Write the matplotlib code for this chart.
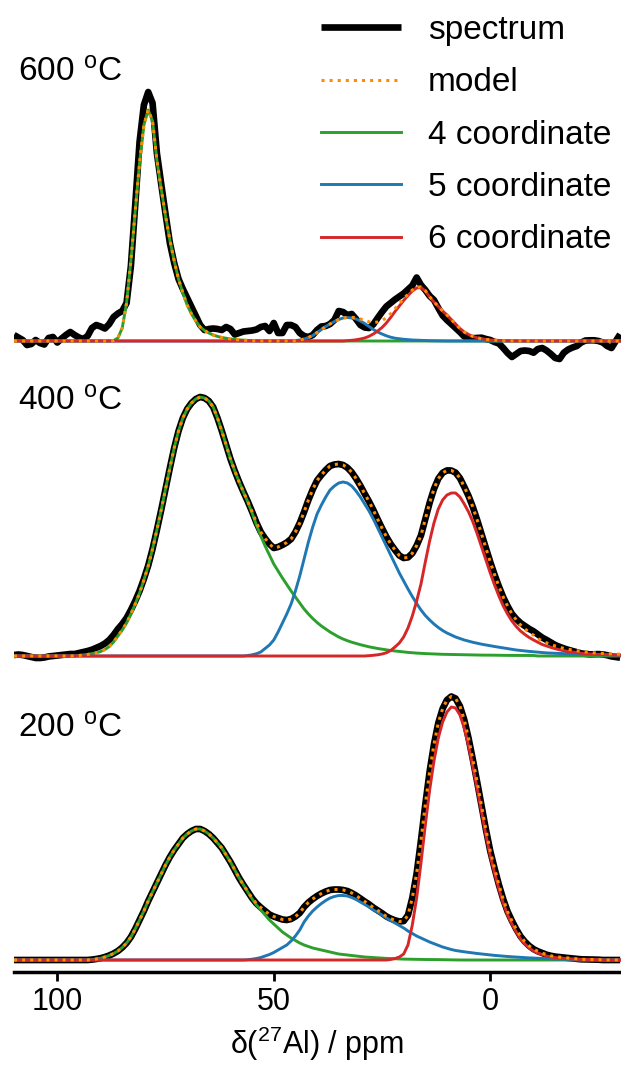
import matplotlib
matplotlib.use("Agg")
import matplotlib.pyplot as plt
import numpy as np

plt.rcParams['font.family'] = ['Liberation Sans', 'DejaVu Sans']
plt.rcParams['mathtext.default'] = 'regular'

# chemical shift axis, 1 ppm steps (values below at these shifts)
ppm = np.arange(110, -31, -1)


def on_grid(start, values):
    """Place a list of intensities (first one at `start` ppm) on the full ppm grid."""
    out = np.zeros(ppm.size)
    i = 110 - start
    out[i:i + len(values)] = values
    return out


# ---------------- 600 C ----------------
spec_600 = [
    6, 3.5, 1, -4, -3, 1, -2, -3.5, 3, 4,                   # 110..101
    -1.5, 2.5, 6, 9, 6, 3.5, 2, 5, 13, 16,                  # 100..91
    14.5, 12.5, 17, 24, 27.5, 30, 38, 75, 136, 199,         # 90..81
    236, 249, 238, 188, 157, 127, 98, 78, 62, 52,           # 80..71
    43, 34, 25, 16, 11, 12, 12.5, 12, 11, 14,               # 70..61
    12, 6.5, 8, 9.5, 10, 10.5, 11.5, 14, 15, 10,            # 60..51
    18, 8, 8, 16, 16, 14, 8, 5, 4, 6,                       # 50..41
    11, 14.5, 15, 17, 21, 30, 29, 26, 27, 22,               # 40..31
    16, 13.5, 13, 16.7, 23, 29, 34.5, 38, 41.5, 44.5,       # 30..21
    47.5, 51.5, 55.5, 63.5, 56, 51, 45, 41, 33, 25.5,       # 20..11
    21, 17, 13, 9, 4.5, 3, 2.8, 3, 3.3, 2,                  # 10..1
    1, -1, -2.5, -7, -12, -16, -13, -10, -9.5, -10,         # 0..-9
    -11.7, -8, -7, -9.5, -13, -17, -18, -11.7, -8.5, -6.5,  # -10..-19
    -5, -1.5, 0.5, 0.7, 0.7, 0, -1.5, -5, -7, 0,            # -20..-29
    6.7,                                                    # -30
]
green_600 = [0, 0.5, 3, 13, 38, 80, 130, 178, 216, 231, 220, 181, 152, 125, 101,
             80, 62, 48, 36, 27, 20, 14, 10.5, 8, 6, 4.6, 3.5, 2.7, 2, 1.5, 1.1,
             0.8, 0.5, 0.3, 0.2, 0.1]                                   # from 88 ppm
blue_600 = [0, 0.3, 1, 2, 3.5, 5.5, 8.5, 11.5, 14.5, 17, 19.5, 21.5, 23, 23.5, 23,
            22, 20, 17.5, 14.5, 11.5, 9, 7, 5.2, 3.8, 2.8, 2.2, 1.7, 1.3, 1, 0.8,
            0.6, 0.4, 0.3, 0.2, 0.1]                                    # from 46 ppm
red_600 = [0, 0.3, 0.7, 1.2, 2, 3, 4.7, 7, 10, 13.5, 18, 23.5, 29.5, 35, 40.5, 45.5,
           50, 53, 53.5, 50, 44, 39, 34.5, 30, 26, 21.5, 17, 12.5, 9, 6.5, 4.5, 3.2,
           2.3, 1.6, 1.1, 0.8, 0.5, 0.3, 0.2, 0.1]                      # from 34 ppm

# ---------------- 400 C ----------------
green_400 = [0, 0.5, 1, 1.5, 2.3, 3.2, 4.5, 6.5, 9.5, 14, 20, 26, 33, 42, 52, 63, 76,
             90, 107, 126, 146, 167, 188, 208, 225, 238, 247, 253, 257, 259, 258,
             255, 249, 238, 225, 211, 197, 185, 174, 164, 154, 143, 131, 120, 110,
             101, 92, 85, 78, 71.5, 65, 59, 53, 47, 42, 37.5, 33.5, 30, 27, 24, 21.5,
             19, 17, 15.3, 13.8, 12.5, 11.3, 10.2, 9.2, 8.3, 7.5, 6.8, 6.1, 5.5, 5,
             4.5, 4, 3.6, 3.2, 2.9, 2.6, 2.4, 2.2, 2, 1.8, 1.7, 1.6, 1.5, 1.4, 1.3,
             1.2, 1.1, 1, 1, 0.9, 0.9, 0.8, 0.8, 0.7, 0.7, 0.6, 0.6, 0.6, 0.5, 0.5,
             0.5, 0.5]                                                  # from 96 ppm
blue_400 = [0, 0.5, 1.2, 2.3, 4, 7.5, 11, 16, 24, 33, 42, 52, 65, 80, 97, 114, 129,
            142, 151, 159, 166, 170, 173, 174, 173, 170, 165, 159, 152, 145, 137,
            128, 119, 110, 101, 92, 83, 75, 67, 59.5, 52.5, 46, 40.5, 36, 32, 28.5,
            25.5, 23, 21, 19, 17.5, 16, 14.8, 13.7, 12.7, 11.8, 11, 10.2, 9.5, 8.8,
            8.1, 7.3, 6.6, 6, 5.5, 5, 4.6, 4.2, 3.8, 3.4, 3.1, 2.9, 2.7, 2.5, 2.3,
            2.2, 2.1, 2, 1.8, 1.7, 1.5, 1.4, 1.3, 1.2, 1.1, 1, 0.9, 0.9]  # from 57 ppm
red_400 = [0, 0.3, 0.7, 1.2, 2, 3.2, 5.5, 9, 13, 19, 28, 40, 55, 72, 94, 115, 133,
           147, 156, 161, 163, 163, 159, 152, 144, 134, 122, 109, 96, 83, 71, 60, 50,
           42, 35, 29.5, 25, 21.5, 18.5, 16, 13.7, 11.5, 10, 8.6, 7.3, 6.2, 5.3, 4.5,
           3.9, 3.3, 2.8, 2.4, 2.1, 1.8, 1.6, 1.4, 1.2, 1.1, 1, 0.9]    # from 29 ppm
# where the measured 400 C spectrum departs from the model
resid_400_high = [1, 1.5, 1, 0, -1, -2, -2, -1.5, -0.5, 0, 0.5, 1, 1.5, 2, 2, 2.5, 3,
                  3.5, 4, 5, 5.5, 6, 6.5, 7, 7, 6, 5, 4, 3, 2, 1, 0.5, 0]  # from 110 ppm
resid_400_low = [0, 1, 2, 3, 3.5, 4, 4, 3.5, 3, 2, 1, 0.5, 0, -0.5, -1, -1.5, -2, -2,
                 -2, -1.5, -1, -1, -1.5, -2.5, -3, -3.5]                # from -5 ppm

# ---------------- 200 C ----------------
green_200 = [0, 0.4, 1, 1.8, 3, 4.5, 6.5, 9, 12.5, 17, 23, 31, 40, 49, 59, 68, 77, 86,
             95, 103, 110, 116, 122, 126, 129, 131, 131, 129, 126, 122, 117, 112,
             105, 98, 90, 82, 75, 68, 61, 55, 50, 45, 40, 36, 32, 28, 25, 22, 19.5,
             17, 15, 13.5, 12, 11, 10, 9, 8, 7, 6, 5.5, 5, 4.5, 4, 3.5, 3, 2.7, 2.4,
             2.1, 1.8, 1.6, 1.4, 1.2, 1, 0.9, 0.8, 0.7, 0.6, 0.6, 0.5, 0.5, 0.4, 0.4,
             0.3, 0.3]                                                  # from 93 ppm
blue_200 = [0, 0.3, 0.8, 1.5, 2.5, 4, 5.5, 7.5, 10, 12.5, 15, 19, 24, 30, 38, 44, 49,
            53, 56.5, 59.5, 62, 63.5, 64.5, 64.5, 64, 62.5, 60.5, 58, 55.5, 53, 50,
            47.5, 45, 42, 39.5, 37, 34.5, 32, 29, 26.5, 24, 22, 20, 18, 16.3, 14.7,
            13, 11.7, 10.5, 9.5, 8.8, 8.2, 7.6, 7, 6.5, 6, 5.5, 5, 4.6, 4.2, 3.8, 3.5,
            3.2, 2.9, 2.6, 2.3, 2.1, 1.9, 1.7, 1.5, 1.3, 1.2, 1, 0.9, 0.8, 0.7, 0.6,
            0.5]                                                        # from 57 ppm
red_200 = [0, 0.5, 1.5, 3, 6, 15, 35, 62, 97, 135, 170, 199, 222, 238, 248, 253, 252,
           245, 232, 214, 193, 171, 148, 125, 104, 87, 71, 57, 45, 36, 28, 21, 16, 12,
           9, 7, 5.5, 4, 3, 2.4, 2, 1.6, 1.3, 1, 0.8, 0.7, 0.6, 0.5, 0.4, 0.3]  # from 24 ppm

labels = ['600 $^o$C', '400 $^o$C', '200 $^o$C']
baselines = [631, 316, 12]       # vertical offset of each trace
label_y = [890, 561, 234]        # baseline of each temperature label

g6, b6, r6 = on_grid(88, green_600), on_grid(46, blue_600), on_grid(34, red_600)
g4, b4, r4 = on_grid(96, green_400), on_grid(57, blue_400), on_grid(29, red_400)
g2, b2, r2 = on_grid(93, green_200), on_grid(57, blue_200), on_grid(24, red_200)

model_600 = g6 + b6 + r6
model_400 = g4 + b4 + r4
model_200 = g2 + b2 + r2
spectra = [np.array(spec_600),
           model_400 + on_grid(110, resid_400_high) + on_grid(-5, resid_400_low),
           model_200]
models = [model_600, model_400, model_200]
components = [(g6, b6, r6), (g4, b4, r4), (g2, b2, r2)]

fig = plt.figure(figsize=(6.21, 10.65), dpi=100)
ax = fig.add_axes([14 / 621, 93 / 1065, 607 / 621, 972 / 1065])

for spec, model, (g, b, r), off, lab, ly in zip(spectra, models, components,
                                                baselines, labels, label_y):
    h_spec, = ax.plot(ppm, spec + off, color='black', lw=4.8, solid_capstyle='butt', zorder=1)
    h_g, = ax.plot(ppm, g + off, color='#2ca02c', lw=2.1, zorder=2)
    h_b, = ax.plot(ppm, b + off, color='#1f77b4', lw=2.1, zorder=3)
    h_r, = ax.plot(ppm, r + off, color='#d62728', lw=2.1, zorder=4)
    h_m, = ax.plot(ppm, model + off, color='#ff8c00', lw=2.2, ls=':', zorder=5)
    ax.text(109.1, ly, lab, fontsize=24, va='baseline', ha='left')

ax.legend([h_spec, h_m, h_g, h_b, h_r],
          ['spectrum', 'model', '4 coordinate', '5 coordinate', '6 coordinate'],
          loc='upper left', bbox_to_anchor=(321 / 621, 1 - 15 / 1065),
          bbox_transform=fig.transFigure, frameon=False, fontsize=24,
          handlelength=2.4, handletextpad=0.8, labelspacing=0.64,
          borderpad=0, borderaxespad=0)

ax.set_xlim(110, -30.2)
ax.set_ylim(0, 972)
ax.set_xticks([100, 50, 0])
ax.tick_params(axis='x', labelsize=22, length=6.5, width=2, pad=4)
ax.set_yticks([])
for side in ['top', 'left', 'right']:
    ax.spines[side].set_visible(False)
ax.spines['bottom'].set_linewidth(2.5)
ax.set_xlabel(r'δ($^{27}$Al) / ppm', fontsize=22, labelpad=6)

fig.savefig('out.png', dpi=100)
